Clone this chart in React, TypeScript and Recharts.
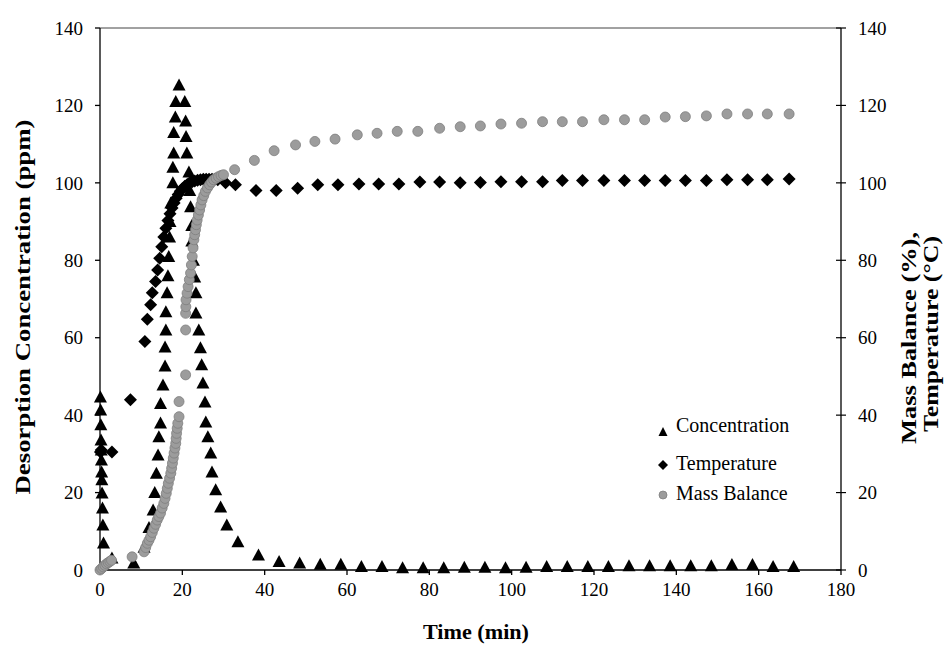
import React from 'react';
import { ScatterChart, Scatter, XAxis, YAxis, ReferenceLine, Legend } from 'recharts';

const FONT = '"Liberation Serif", "Times New Roman", serif';

// Concentration (ppm), left axis
const concTime = [
  0.1, 0.15, 0.2, 0.25, 0.3, 0.35, 0.4, 0.45, 0.5, 0.6, 0.7, 0.85, 2.9, 8.2,
  10.7, 11.9, 12.9, 13.3, 13.7, 14.1, 14.3, 14.7, 14.7, 15.3, 15.8, 15.8, 16, 16, 16.3, 16.5, 16.7, 16.9, 17.0, 17.2, 17.7, 17.7, 17.9, 17.9, 18.3, 18.4, 19.2,
  20.6, 20.8, 20.9, 21.1, 21.6, 21.8, 22, 22.3, 22.3, 22.7, 23, 23.3, 23.3, 24, 24.4, 24.7, 25, 25.5, 25.7, 26.2, 26.9, 27.2, 28.1, 29.3, 30.8,
  33.5, 38.5, 43.5, 48.5, 53.5, 58.5, 63.5, 68.5, 73.5, 78.5, 83.5, 88.5, 93.5, 98.5, 103.5, 108.5, 113.5, 118.5, 123.5, 128.5, 133.5, 138.5, 143.5, 148.5, 153.5, 158.5, 163.5, 168.5,
];
const concValue = [
  44.7, 41.3, 37.5, 33.6, 31, 28.4, 25.3, 23.3, 19.9, 16, 11.6, 7, 3.1, 1.8,
  5.9, 11, 15.5, 20, 25, 29.7, 34.4, 38, 43, 47.8, 52.7, 57.6, 62, 66.7, 71.6, 76, 81, 86, 90, 94.8, 100, 104, 107.7, 113, 117, 121, 125.3,
  121, 116, 112, 107.7, 102.8, 98, 93.8, 89, 85, 80, 75.7, 71.6, 66.4, 62, 57.4, 53, 48.3, 43.4, 38.2, 34.4, 30.2, 25.3, 20.7, 16.3, 11.6,
  7.3, 3.9, 2.2, 1.8, 1.5, 1.5, 0.9, 0.9, 0.6, 0.6, 0.6, 0.7, 0.7, 0.6, 0.7, 0.9, 0.9, 0.9, 0.9, 1.1, 1.1, 1.1, 1.1, 1.1, 1.4, 1.4, 0.9, 0.9,
];

// Temperature (°C), right axis
const tempTime = [
  0.1, 0.3, 2.9, 7.4, 10.9,
  11.5, 12.3, 12.7, 13.5, 14.0, 14.5, 15.0, 15.5, 16.0, 16.5, 17.0, 17.5, 18.0, 18.5, 19.0, 19.5, 20.0, 20.6, 21.2, 21.8, 22.4, 23.0, 23.7, 24.4, 25.1, 25.8, 26.5, 27.2, 27.9, 28.6, 30.5,
  32.9, 37.9, 42.8, 48, 52.9, 57.8, 62.9, 67.7, 72.6, 77.7, 82.5, 87.5, 92.4, 97.4, 102.4, 107.5, 112.3, 117.2, 122.4, 127.4, 132.3, 137.3, 142.2, 147.3, 152.3, 157.3, 162.1, 167.4,
];
const tempValue = [
  30.5, 31, 30.5, 44, 59,
  64.8, 68.5, 71.6, 74.5, 77.5, 80.5, 83.5, 86, 88.3, 90.3, 92, 93.5, 94.8, 96, 97, 97.8, 98.5, 99.1, 99.6, 100, 100.3, 100.5, 100.7, 100.8, 100.9, 100.9, 100.9, 100.9, 100.9, 100.8, 100,
  99.5, 98, 98, 98.6, 99.5, 99.5, 99.7, 99.7, 99.7, 100.2, 100.2, 100, 100.1, 100.3, 100.3, 100.3, 100.6, 100.6, 100.6, 100.6, 100.6, 100.6, 100.6, 100.6, 100.8, 100.8, 100.8, 101,
];

// Mass balance (%), right axis
const massTime = [
  0, 0.4, 0.8, 1.2, 1.6, 2.0, 2.4, 2.8, 7.8,
  10.7, 11.1, 11.5, 11.9, 12.3, 12.7, 13.1, 13.5, 13.9, 14.3, 14.7, 15.1, 15.5, 15.8, 16.1, 16.35, 16.6, 16.9, 17.2, 17.4, 17.6, 17.8, 18, 18.2, 18.4, 18.5, 18.6, 18.75, 18.9, 19.2,
  19.2, 20.8, 20.8,
  20.8, 20.85, 20.9, 21.15, 21.4, 21.7, 22, 22.2, 22.4, 22.6, 22.8, 23, 23.2, 23.4, 23.6, 23.9, 24.2, 24.5, 24.8, 25.2, 25.6, 26.1, 26.6, 27.1, 27.6, 28.2, 28.8, 29.4, 30,
  32.7, 37.5, 42.3, 47.5, 52.2, 57.1, 62.5, 67.3, 72.2, 77.2, 82.5, 87.5, 92.4, 97.4, 102.4, 107.5, 112.3, 117.2, 122.4, 127.4, 132.3, 137.3, 142.2, 147.3, 152.3, 157.3, 162.1, 167.4,
];
const massValue = [
  0, 0.4, 0.8, 1.2, 1.6, 1.9, 2.2, 2.5, 3.4,
  4.7, 5.8, 6.9, 7.7, 8.6, 9.7, 10.8, 11.8, 12.9, 13.8, 14.7, 16, 17.2, 18.5, 19.8, 21.1, 22.4, 23.7, 25, 26.3, 27.6, 28.9, 30.2, 31.5, 32.7, 34, 35.3, 36.6, 37.9, 39.6,
  43.5, 50.4, 62,
  66.3, 68, 69.8, 71.5, 73.2, 75, 76.7, 78.8, 81, 83.2, 85.3, 86.6, 87.9, 89.2, 90.4, 91.7, 93, 94.3, 95.6, 96.7, 97.8, 98.7, 99.5, 100.2, 100.8, 101.2, 101.6, 101.9, 102.1,
  103.4, 105.8, 108.3, 109.8, 110.7, 111.3, 112.4, 112.8, 113.3, 113.3, 114.1, 114.5, 114.7, 115.2, 115.4, 115.8, 115.8, 115.8, 116.3, 116.3, 116.3, 117, 117.1, 117.3, 117.8, 117.8, 117.8, 117.8,
];

const xTicks = [0, 20, 40, 60, 80, 100, 120, 140, 160, 180];
const yTicks = [0, 20, 40, 60, 80, 100, 120, 140];

const concData = concTime.map((t, i) => ({ t, v: concValue[i] }));
const tempData = tempTime.map((t, i) => ({ t, v: tempValue[i] }));
const massData = massTime.map((t, i) => ({ t, v: massValue[i] }));

const Triangle = (p: any) => (
  <polygon points={`${p.cx},${p.cy - 6.5} ${p.cx + 6.5},${p.cy + 5.5} ${p.cx - 6.5},${p.cy + 5.5}`} fill="#000" />
);
const Diamond = (p: any) => (
  <polygon points={`${p.cx},${p.cy - 6.5} ${p.cx + 6.5},${p.cy} ${p.cx},${p.cy + 6.5} ${p.cx - 6.5},${p.cy}`} fill="#000" />
);
const Dot = (p: any) => <circle cx={p.cx} cy={p.cy} r={5} fill="#9c9c9c" stroke="#7f7f7f" strokeWidth={0.8} />;

const RightTick = (p: any) => (
  <g>
    <line x1={p.x - 22} x2={p.x - 12} y1={p.y} y2={p.y} stroke="#000" strokeWidth={1.2} />
    <text x={p.x} y={p.y} dy="0.35em" textAnchor="start" fill="#000" fontSize={19} fontFamily={FONT}>
      {p.payload.value}
    </text>
  </g>
);

const LegendBox = () => (
  <svg width={200} height={110} style={{ display: 'block' }}>
    <polygon points="13,22 17.5,31 8.5,31" fill="#000" />
    <text x={26} y={20} dy="0.35em" fontSize={20} fontFamily={FONT} fill="#000">Concentration</text>
    <polygon points="13,55 18,60 13,65 8,60" fill="#000" />
    <text x={26} y={58} dy="0.35em" fontSize={20} fontFamily={FONT} fill="#000">Temperature</text>
    <circle cx={13} cy={90} r={4} fill="#9c9c9c" stroke="#7f7f7f" strokeWidth={0.8} />
    <text x={26} y={88} dy="0.35em" fontSize={20} fontFamily={FONT} fill="#000">Mass Balance</text>
  </svg>
);

const axisStyle = { stroke: '#000', strokeWidth: 1.3 };

export default function App() {
  return (
    <div style={{ position: 'absolute', left: 0, top: 0, width: 952, height: 648, background: '#fff' }}>
      <ScatterChart width={952} height={648} margin={{ top: 28, right: 51, bottom: 38, left: 40 }}>
        <XAxis
          type="number"
          dataKey="t"
          domain={[0, 180]}
          ticks={xTicks}
          axisLine={axisStyle}
          tickLine={axisStyle}
          tickSize={5}
          tickMargin={8}
          height={40}
          tick={{ fill: '#000', fontSize: 19, fontFamily: FONT }}
        />
        <YAxis
          yAxisId="left"
          type="number"
          dataKey="v"
          domain={[0, 140]}
          ticks={yTicks}
          width={60}
          axisLine={axisStyle}
          tickLine={axisStyle}
          tickSize={5}
          tickMargin={12}
          tick={{ fill: '#000', fontSize: 19, fontFamily: FONT }}
        />
        <YAxis
          yAxisId="right"
          orientation="right"
          type="number"
          dataKey="v"
          domain={[0, 140]}
          ticks={yTicks}
          width={60}
          axisLine={axisStyle}
          tickLine={false}
          tickSize={5}
          tickMargin={12}
          tick={<RightTick />}
        />
        <ReferenceLine yAxisId="left" y={140} stroke="#444" strokeWidth={1} />
        <Scatter name="Concentration" data={concData} yAxisId="left" shape={<Triangle />} isAnimationActive={false} />
        <Scatter name="Temperature" data={tempData} yAxisId="right" shape={<Diamond />} isAnimationActive={false} />
        <Scatter name="Mass Balance" data={massData} yAxisId="right" shape={<Dot />} isAnimationActive={false} />
        <Legend
          layout="vertical"
          align="center"
          verticalAlign="middle"
          content={<LegendBox />}
          wrapperStyle={{ left: 650, top: 405, width: 200, height: 110 }}
        />
        <text x={22} y={307} transform="rotate(-90 22 307)" textAnchor="middle" dominantBaseline="central" fontSize={22} fontWeight="bold" fontFamily={FONT} fill="#000" textLength={375} lengthAdjust="spacingAndGlyphs">
          Desorption Concentration (ppm)
        </text>
        <text x={909} y={338} transform="rotate(-90 909 338)" textAnchor="middle" dominantBaseline="central" fontSize={21} fontWeight="bold" fontFamily={FONT} fill="#000" textLength={212} lengthAdjust="spacingAndGlyphs">
          Mass Balance (%),
        </text>
        <text x={931} y={334} transform="rotate(-90 931 334)" textAnchor="middle" dominantBaseline="central" fontSize={21} fontWeight="bold" fontFamily={FONT} fill="#000" textLength={196} lengthAdjust="spacingAndGlyphs">
          Temperature (°C)
        </text>
        <text x={476} y={632} textAnchor="middle" dominantBaseline="central" fontSize={21} fontWeight="bold" fontFamily={FONT} fill="#000" textLength={106} lengthAdjust="spacingAndGlyphs">
          Time (min)
        </text>
      </ScatterChart>
    </div>
  );
}
